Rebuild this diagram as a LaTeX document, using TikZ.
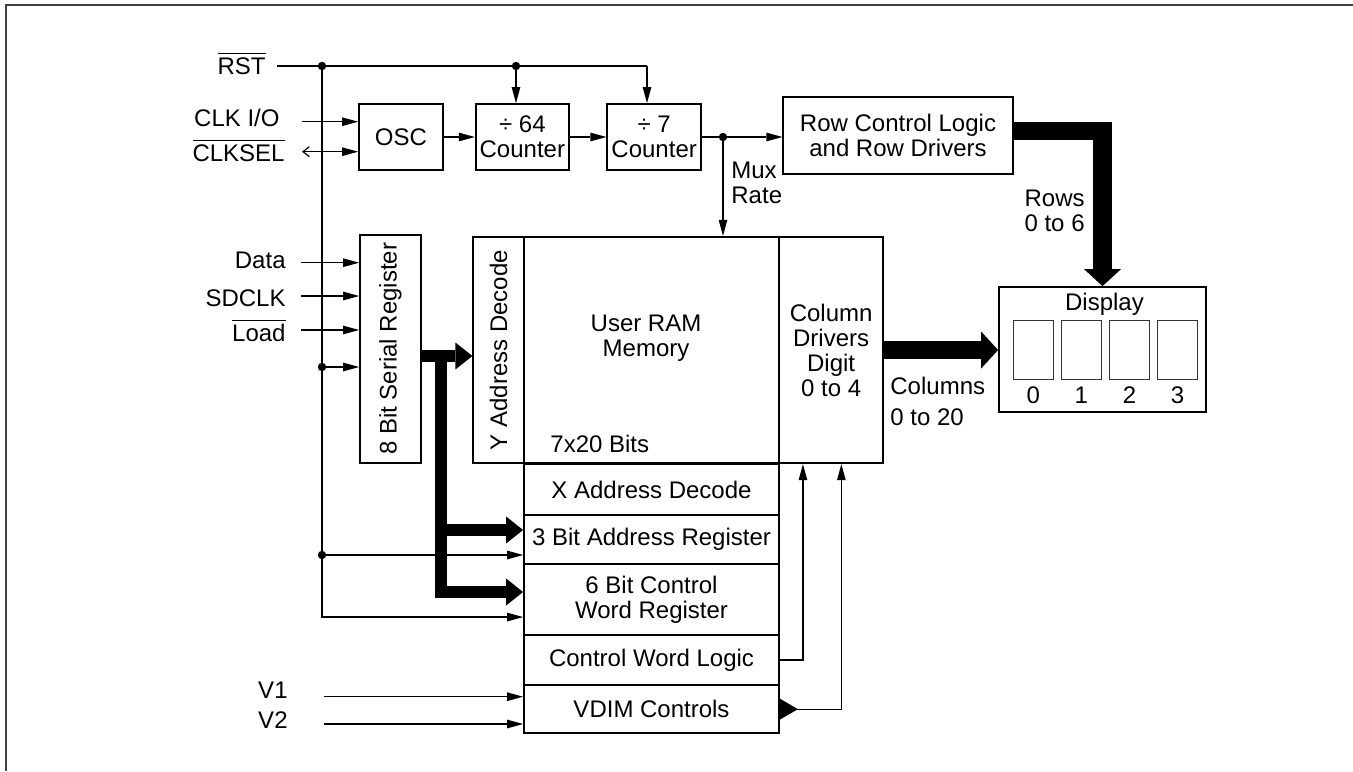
\documentclass[tikz,border=0pt]{standalone}
\usepackage{amsmath}
\usepackage{fontspec}
\setmainfont{Liberation Sans}
\usepackage{tikz}
\usetikzlibrary{arrows.meta, positioning, calc}
\tikzstyle{block} = [rectangle, draw=black, line width=0.9pt, inner sep=0pt, align=center]
\tikzstyle{digit} = [rectangle, draw=black!80, line width=0.7pt, minimum width=20pt, minimum height=29.3pt, inner sep=0pt]
\tikzstyle{lbl} = [inner sep=0pt, align=center]
\tikzstyle{wire} = [line width=0.6pt]
\tikzstyle{arrow} = [wire, -{Triangle[length=8pt, width=4.4pt, line width=0pt]}]
\tikzstyle{bus} = [line width=6pt]
\tikzstyle{busarrow} = [bus, -{Triangle[length=8.5pt, width=13.5pt, line width=0pt]}]
\tikzstyle{wide} = [line width=9.25pt, line join=miter, -{Triangle[length=8.5pt, width=18.5pt, line width=0pt]}]
\tikzstyle{dot} = [circle, fill=black, inner sep=0pt, minimum size=4.2pt]

\begin{document}
\begin{tikzpicture}[x=0.5pt, y=-0.5pt, font=\fontsize{12}{12.5}\selectfont]
\useasboundingbox (0,0) rectangle (1353,771);
\draw[line width=1pt, black!75] (6,771) -- (6,5) -- (1353,5);

% Nodes
\node (osc) [block, minimum width=41.85pt, minimum height=33pt] at (400.85,137) {OSC};
\node (cnt1) [block, minimum width=46.65pt, minimum height=33pt] at (522.35,137) {÷ 64\\Counter};
\node (cnt2) [block, minimum width=46.85pt, minimum height=33pt] at (654.15,137) {÷ 7\\Counter};
\node (rowctl) [block, minimum width=114.7pt, minimum height=38.65pt] at (898,135.35) {Row Control Logic\\and Row Drivers};

\node (sreg) [block, minimum width=30.5pt, minimum height=113.85pt] at (390.5,348.9) {};
\node [lbl, rotate=90] at (sreg.center) {8 Bit Serial Register};
\node (ydec) [block, minimum width=25.35pt, minimum height=113.3pt] at (498.65,350) {};
\node [lbl, rotate=90] at (ydec.center) {Y Address Decode};
\node (ram) [block, minimum width=127.5pt, minimum height=113.3pt] at (651.5,350) {};
\node [lbl, anchor=north] at (646,315) {User RAM\\Memory};
\node [lbl, anchor=base west] at (550,452.7) {7x20 Bits};
\node (coldrv) [block, minimum width=52.15pt, minimum height=113.3pt] at (831.15,350) {Column\\Drivers\\Digit\\0 to 4};

\node (xdec) [block, minimum width=127.5pt, minimum height=25.5pt] at (651.5,489.5) {X Address Decode};
\node (areg) [block, minimum width=127.5pt, minimum height=24.65pt] at (651.5,539.65) {3 Bit Address Register};
\node (creg) [block, minimum width=127.5pt, minimum height=35.35pt] at (651.5,599.65) {6 Bit Control\\Word Register};
\node (cwl) [block, minimum width=127.5pt, minimum height=25pt] at (651.5,660) {Control Word Logic};
\node (vdim) [block, minimum width=127.5pt, minimum height=24.15pt] at (651.5,709.15) {VDIM Controls};

\node (disp) [block, minimum width=103.5pt, minimum height=62.35pt] at (1102.5,349.35) {};
\node [lbl, anchor=base] at (1104.5,310.7) {Display};
\node (dg0) [digit] at (1033.3,350) {};
\node (dg1) [digit, right=3.35pt of dg0] {};
\node (dg2) [digit, right=3.35pt of dg1] {};
\node (dg3) [digit, right=3.35pt of dg2] {};
\node [lbl, below=3.4pt of dg0] {0};
\node [lbl, below=3.4pt of dg1] {1};
\node [lbl, below=3.4pt of dg2] {2};
\node [lbl, below=3.4pt of dg3] {3};

% Pin labels
\node (rst) [lbl, anchor=base east] at (266,74) {$\overline{\text{RST}}$};
\node (clkio) [lbl, anchor=base east] at (280,126) {CLK I/O};
\node (clksel) [lbl, anchor=base east] at (285,161) {$\overline{\text{CLKSEL}}$};
\node (data) [lbl, anchor=base east] at (286,268) {Data};
\node (sdclk) [lbl, anchor=base east] at (286,306.7) {SDCLK};
\node (load) [lbl, anchor=base east] at (286,341.7) {$\overline{\text{Load}}$};
\node (v1) [lbl, anchor=base east] at (288,698) {V1};
\node (v2) [lbl, anchor=base east] at (288,728) {V2};

% Coordinates
\coordinate (rstin) at (277,66);
\coordinate (rstsplit) at (322,66);
\coordinate (rstcnt) at (516,66);
\coordinate (rstend) at (647,66);
\coordinate (clkin) at (302,121.7);
\coordinate (selin) at (302,151.7);
\coordinate (datain) at (301,262.7);
\coordinate (sdclkin) at (301,296);
\coordinate (loadin) at (301,330);
\coordinate (srtap) at (322,367);
\coordinate (artap) at (322,555);
\coordinate (v1in) at (323.5,696.7);
\coordinate (v2in) at (323.5,724);
\coordinate (mux) at (723,137);
\coordinate (busy) at (441,356);
\coordinate (bustop) at (441,350);
\coordinate (busbot) at (441,598);
\coordinate (busa) at (441,530);
\coordinate (busc) at (441,592);

% Arrows
\draw [wire] (rstin) -- (rstend);
\draw [arrow] (rstcnt) -- (rstcnt |- cnt1.north);
\draw [arrow] (rstend) -- (rstend |- cnt2.north);
\draw [arrow] (rstsplit) |- ([yshift=-8.7pt]creg.west);
\draw [arrow] (clkin) -- (clkin -| osc.west);
\draw [wire, {Straight Barb[length=3.2pt, width=5pt]}-{Triangle[length=8pt, width=4.4pt, line width=0pt]}] (selin) -- (selin -| osc.west);
\draw [arrow] (osc) -- (cnt1);
\draw [arrow] (cnt1) -- (cnt2);
\draw [arrow] (cnt2.east) -- (cnt2.east -| rowctl.west);
\draw [arrow] (mux) -- (mux |- ram.north);
\node (muxlbl) [lbl, align=left, anchor=west] at (731,182.85) {Mux\\Rate};

\draw [arrow] (datain) -- (datain -| sreg.west);
\draw [arrow] (sdclkin) -- (sdclkin -| sreg.west);
\draw [arrow] (loadin) -- (loadin -| sreg.west);
\draw [arrow] (srtap) -- (srtap -| sreg.west);
\draw [arrow] (artap) -- (artap -| areg.west);
\draw [arrow] (v1in) -- (v1in -| vdim.west);
\draw [arrow] (v2in) -- (v2in -| vdim.west);

\draw [busarrow] (busy -| sreg.east) -- (busy -| ydec.west);
\draw [bus] (bustop) -- (busbot);
\draw [busarrow] (busa) -- (busa -| areg.west);
\draw [busarrow] (busc) -- (busc -| creg.west);

\draw [wide] ([yshift=2.2pt]rowctl.east) -| (disp.north);
\node (rowslbl) [lbl, align=right, anchor=east] at (1085,211.3) {Rows\\0 to 6};
\draw [wide] (coldrv.east) -- (coldrv.east -| disp.west);
\node (collbl) [lbl, align=left, anchor=north west] at (890,376.7) {Columns\\[3pt]0 to 20};

\draw [arrow] (cwl.east) -| ([xshift=-14.1pt]coldrv.south);
\draw [arrow] (vdim.east) -| ([xshift=5.1pt]coldrv.south);
\fill (vdim.east) -- ++(0,-10.5) -- ++(18,10.5) -- ++(-18,10.5) -- cycle;

\node [dot] at (rstsplit) {};
\node [dot] at (rstcnt) {};
\node [dot] at (mux) {};
\node [dot] at (srtap) {};
\node [dot] at (artap) {};
\end{tikzpicture}
\end{document}
